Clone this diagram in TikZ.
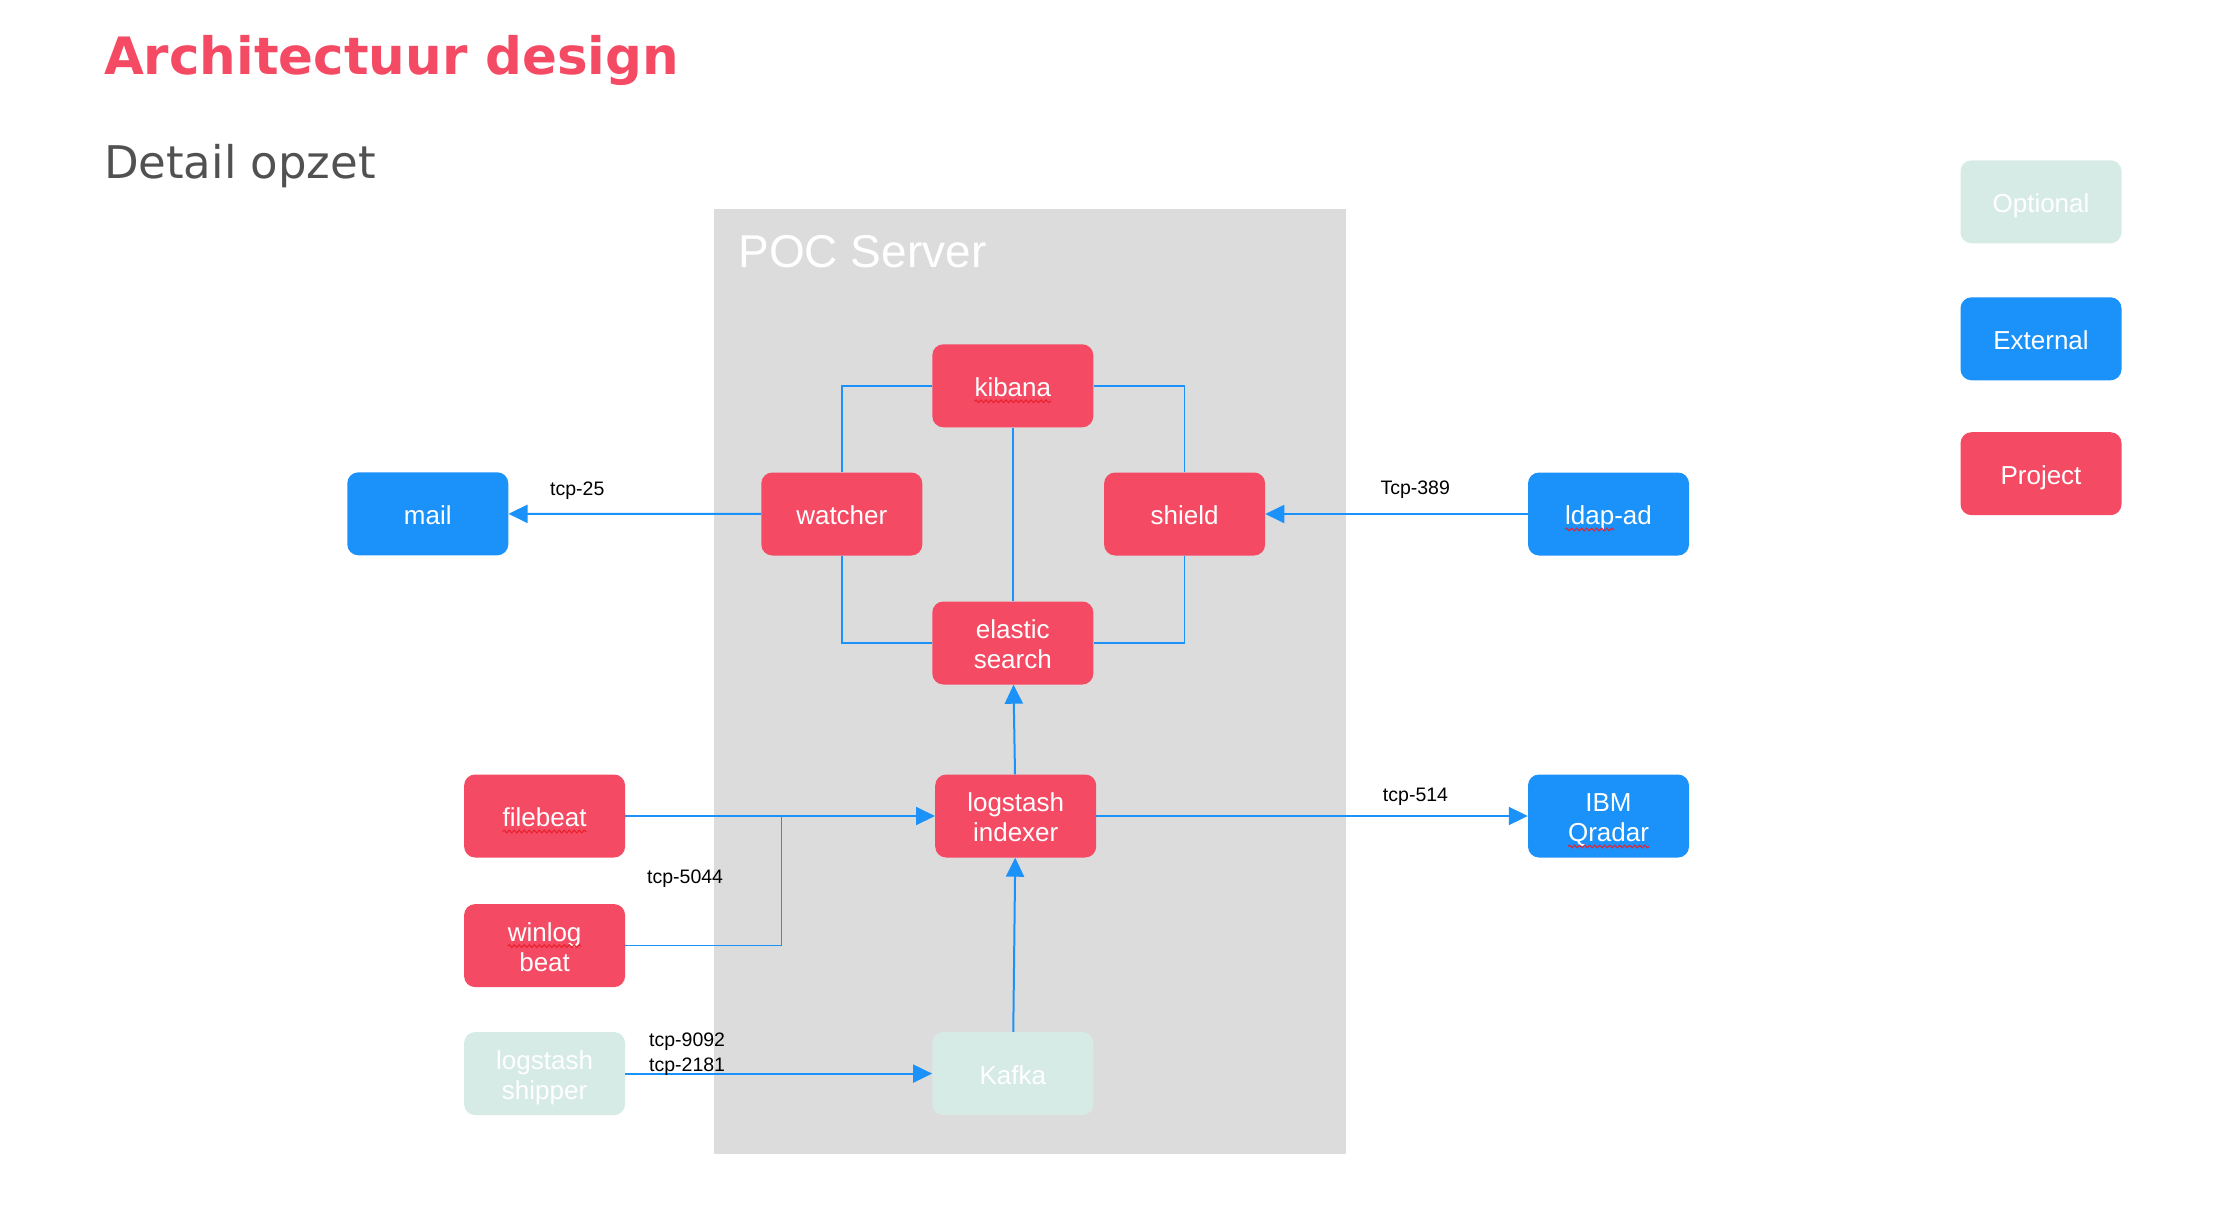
\documentclass[tikz,border=0pt]{standalone}
\usepackage{fontspec}
\setmainfont{Liberation Sans}
\newfontfamily\headfont{DejaVu Sans}
\usetikzlibrary{arrows.meta, decorations.pathmorphing}

\definecolor{projred}{HTML}{F54A63}
\definecolor{extblue}{HTML}{1B91FA}
\definecolor{optgreen}{HTML}{D7EBE6}
\definecolor{pocgray}{HTML}{DCDCDC}
\definecolor{subgray}{HTML}{515151}
\definecolor{spellred}{HTML}{E8202A}

% red wavy underline under a word
\newcommand{\spell}[1]{\tikz[baseline=(w.base)]{\node[inner sep=0pt, outer sep=0pt, minimum width=0pt, minimum height=0pt, fill=none, draw=none] (w) {#1}; \draw[overlay, spellred, line width=1pt, sharp corners, decorate, decoration={snake, amplitude=1.4pt, segment length=5pt}] ([yshift=-5pt]w.base west) -- ([yshift=-5pt]w.base east);}}
\newcommand{\topstrut}{\rule{0pt}{27pt}}
\newcommand{\botstrut}{\rule[-6pt]{0pt}{6pt}}

\def\boxlist{{(1012.8,385.8)/kibana/project/{\spell{kibana}}}, {(841.8,514)/watcher/project/{watcher}}, {(1184.6,514)/shield/project/{shield}}, {(1012.8,643)/elastic/project/{\topstrut elastic\\search\botstrut}}, {(1015.7,816)/indexer/project/{\topstrut logstash\\indexer\botstrut}}, {(427.8,513.8)/mail/external/{mail}}, {(1608.5,514)/ldap/external/{\spell{ldap}-ad}}, {(1608.5,816)/qradar/external/{\topstrut IBM\\\spell{Qradar}\botstrut}}, {(544.6,816)/filebeat/project/{\spell{filebeat}}}, {(544.6,945.6)/winlog/project/{\topstrut\spell{winlog}\\beat\botstrut}}, {(544.6,1073.6)/shipper/optional/{\topstrut logstash\\shipper\botstrut}}, {(1012.8,1073.6)/kafka/optional/{Kafka}}, {(2041,201.8)/optional-key/optional/{Optional}}, {(2041,338.8)/external-key/external/{External}}, {(2041,473.7)/project-key/project/{Project}}}

\tikzstyle{box} = [rounded corners=11pt, minimum width=161pt, minimum height=83pt, inner sep=0pt, align=center, text=white, font=\fontsize{26}{30}\selectfont, execute at begin node=\topstrut, execute at end node=\botstrut]
\tikzstyle{project} = [box, fill=projred]
\tikzstyle{external} = [box, fill=extblue]
\tikzstyle{optional} = [box, fill=optgreen]
\tikzstyle{link} = [draw=extblue, line width=1.5pt]
\tikzstyle{flow} = [draw=extblue, line width=2pt, -{Triangle[width=18pt,length=19pt]}]
\tikzstyle{port} = [font=\fontsize{19.5}{25}\selectfont, inner sep=0pt, align=left]

\begin{document}
\begin{tikzpicture}[x=1pt, y=-1pt]
  \useasboundingbox (0,0) rectangle (2236,1212);
  \fill[pocgray] (714,209.2) rectangle (1346,1153.5);

  \node[anchor=base west, inner sep=0pt, text=projred, font=\headfont\bfseries\fontsize{51.5}{60}\selectfont] (title) at (103.8,74.6) {Architectuur design};
  \node[anchor=base west, inner sep=0pt, text=subgray, font=\headfont\fontsize{45}{54}\selectfont] (subtitle) at (103.8,178.7) {Detail opzet};
  \node[anchor=base west, inner sep=0pt, text=white, font=\fontsize{46}{54}\selectfont] (poc) at (738.3,267.9) {POC Server};

  \foreach \pos/\name/\kind/\txt in \boxlist {
    \node[\kind] (\name) at \pos {\txt};
  }
  \coordinate (join) at (781.6,816);

  \path[link] (kibana.west) -| (watcher.north);
  \path[link] (kibana.east) -| (shield.north);
  \path[link] (kibana.south) -- (elastic.north);
  \path[link] (watcher.south) |- (elastic.west);
  \path[link] (shield.south) |- (elastic.east);
  \path[link] (winlog.east) -| (join);

  \foreach \source/\sink in {watcher/mail, ldap/shield, indexer/elastic, indexer/qradar, filebeat/indexer, kafka/indexer, shipper/kafka} {
    \path[flow] (\source) -- (\sink);
  }

  \node[port, anchor=base] (tcp25) at (577.3,495.4) {tcp-25};
  \node[port, anchor=base] (tcp389) at (1415.2,494.9) {Tcp-389};
  \node[port, anchor=base] (tcp514) at (1415.5,801) {tcp-514};
  \node[port, anchor=base west] (tcp5044) at (647,883) {tcp-5044};
  \node[port, anchor=west] (tcpkafka) at (649,1054) {tcp-9092\\tcp-2181};
\end{tikzpicture}
\end{document}
